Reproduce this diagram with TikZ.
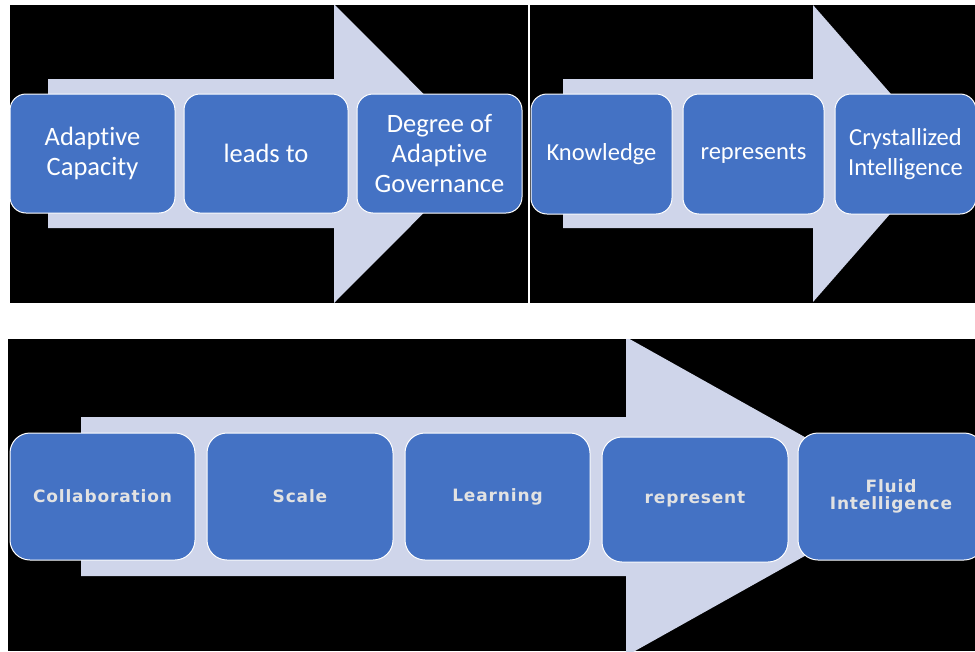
\documentclass[tikz,border=0pt]{standalone}
\usepackage{fontspec}
\setmainfont{Carlito}[RawFeature={-liga;-clig;-calt;-dlig}]
\newfontfamily\widefont{DejaVu Sans}[LetterSpace=5]
\definecolor{boxblue}{HTML}{4472C4}
\definecolor{arrowgrey}{HTML}{CFD5EA}
\definecolor{labelgrey}{HTML}{E2E2E2}

\begin{document}
\begin{tikzpicture}[
	x=1pt, y=-1pt,
	stagebox/.style={
		draw=white, line width=1pt, fill=boxblue, rounded corners=16pt,
		text=white, align=center, inner sep=0pt},
	bigtext/.style={font=\fontsize{26.5}{30}\selectfont},
	midtext/.style={font=\fontsize{24.5}{30}\selectfont},
	widebox/.style={
		stagebox, rounded corners=20pt, text=labelgrey,
		minimum width=186pt, minimum height=127pt,
		font=\widefont\bfseries\fontsize{17}{17}\selectfont}
	]
	\useasboundingbox (0,0) rectangle (975,651);
	\fill[white] (0,0) rectangle (975,651);

	% black panels
	\fill[black] (10,5) rectangle (528,303);
	\fill[black] (530,5) rectangle (975,303);
	\fill[black] (8,339) rectangle (975,651);

	% top left panel
	\begin{scope}
		\clip (10,5) rectangle (528,303);
		\fill[color=arrowgrey]
			(48,79) -- (334,79) -- (334,4) -- (483,153.5)
			-- (334,303) -- (334,228) -- (48,228) -- cycle;
		\node[stagebox, bigtext, minimum width=165pt, minimum height=119pt]
			(capacity) at (92.5,153.5) {Adaptive\\Capacity};
		\node[stagebox, bigtext, minimum width=164pt, minimum height=119pt]
			(leads) at (266,153.5) {leads to};
		\node[stagebox, bigtext, minimum width=165pt, minimum height=119pt]
			(governance) at (439.5,153.5) {Degree of\\Adaptive\\Governance};
	\end{scope}

	% top right panel
	\begin{scope}
		\clip (530,5) rectangle (975,303);
		\fill[color=arrowgrey]
			(563,79) -- (813,79) -- (813,5) -- (943,153.5)
			-- (813,302) -- (813,228) -- (563,228) -- cycle;
		\node[stagebox, midtext, minimum width=141pt, minimum height=120pt]
			(knowledge) at (601.5,154) {Knowledge};
		\node[stagebox, midtext, minimum width=141pt, minimum height=120pt]
			(represents) at (753.5,154) {represents};
		\node[stagebox, midtext, minimum width=141pt, minimum height=120pt]
			(crystal) at (905.5,154) {Crystallized\\Intelligence};
	\end{scope}

	% bottom panel
	\begin{scope}
		\clip (8,339) rectangle (975,651);
		\fill[color=arrowgrey]
			(81,417) -- (626,417) -- (626,337) -- (911,496.5)
			-- (626,656) -- (626,576) -- (81,576) -- cycle;
		\node[widebox, minimum width=185pt] (collab) at (102.5,496.5) {Collaboration};
		\node[widebox] (scale) at (300,496.5) {Scale};
		\node[widebox, minimum width=185pt] (learning) at (497.5,496.5) {Learning};
		\node[widebox, minimum height=125pt] (represent) at (695,499.5) {represent};
		\node[widebox] (fluid) at (891,496.5) {Fluid\\Intelligence};
	\end{scope}
\end{tikzpicture}
\end{document}
